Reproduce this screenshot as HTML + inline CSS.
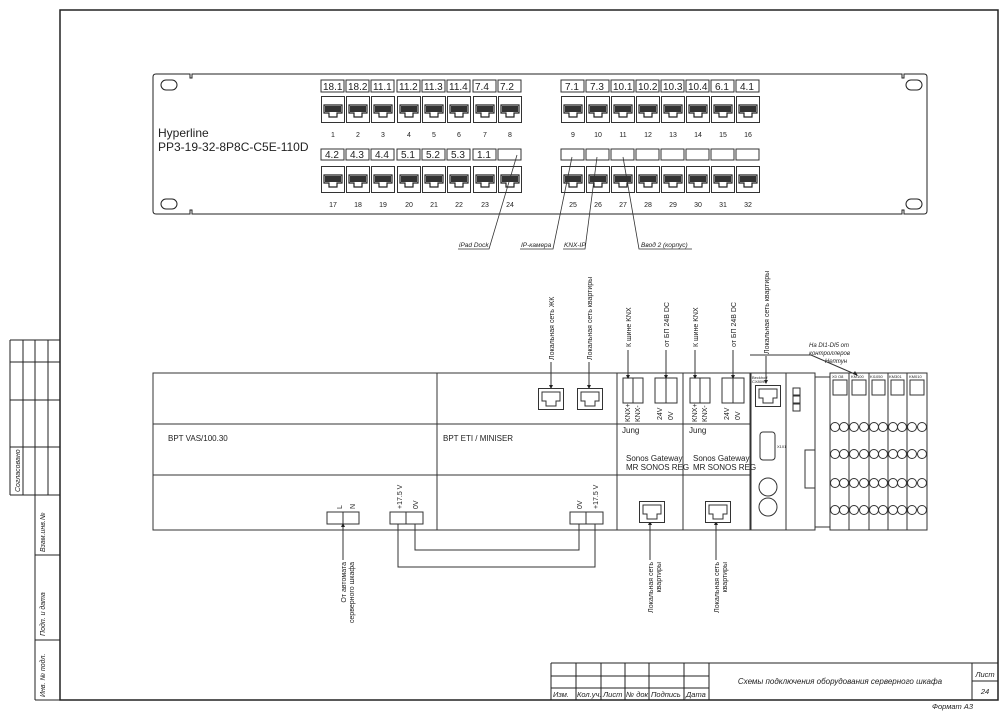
<!DOCTYPE html>
<html><head><meta charset="utf-8"><style>
html,body{margin:0;padding:0;background:#fff}
svg{display:block}
text{font-family:"Liberation Sans",sans-serif;fill:#222}
.it{font-style:italic}
</style></head><body>
<svg width="1006" height="712" viewBox="0 0 1006 712" xmlns="http://www.w3.org/2000/svg">
<defs>
<symbol id="jack" viewBox="0 0 24 27" width="24" height="27">
<rect x="0.5" y="0.5" width="23" height="26" fill="#fff" stroke="#333"/>
<path d="M3,9 H21 V17 H16 V21 H8 V17 H3 Z" fill="none" stroke="#222" stroke-width="1.2"/>
<rect x="4" y="10" width="16" height="6" fill="#333"/>
</symbol>
<symbol id="rj" viewBox="0 0 26 22" width="26" height="22">
<rect x="0.5" y="0.5" width="25" height="21" fill="#fff" stroke="#333"/>
<path d="M4,4 H22 V13 H18 V18 H8 V13 H4 Z" fill="none" stroke="#333"/>
</symbol>
</defs>
<g fill="none" stroke="#222">
<path d="M60,10 H998 V700 H60 Z" stroke-width="1.5"/>
<path d="M10,340 H60 M10,340 V495 M23,340 V495 M35,340 V700 M48,340 V495 M10,362 H60 M10,400 H60 M10,447 H60 M10,495 H60 M35,555 H60 M35,640 H60 M35,700 H60"/>
<path d="M156,74 H190 V78 H192 V74 H902 V78 H904 V74 H924 Q927,74 927,77 V211 Q927,214 924,214 H904 V210 H902 V214 H192 V210 H190 V214 H156 Q153,214 153,211 V77 Q153,74 156,74 Z"/>
<rect x="161" y="80" width="16" height="10" rx="5"/>
<rect x="161" y="199" width="16" height="10" rx="5"/>
<rect x="906" y="80" width="16" height="10" rx="5"/>
<rect x="906" y="199" width="16" height="10" rx="5"/>
</g>
<text x="158" y="137" font-size="12">Hyperline</text>
<text x="158" y="151" font-size="12">PP3-19-32-8P8C-C5E-110D</text>
<g fill="none" stroke="#333">
<rect x="321" y="80" width="23" height="12"/><rect x="346" y="80" width="23" height="12"/><rect x="371" y="80" width="23" height="12"/><rect x="397" y="80" width="23" height="12"/><rect x="422" y="80" width="23" height="12"/><rect x="447" y="80" width="23" height="12"/><rect x="473" y="80" width="23" height="12"/><rect x="498" y="80" width="23" height="12"/>
<rect x="321" y="149" width="23" height="11"/><rect x="346" y="149" width="23" height="11"/><rect x="371" y="149" width="23" height="11"/><rect x="397" y="149" width="23" height="11"/><rect x="422" y="149" width="23" height="11"/><rect x="447" y="149" width="23" height="11"/><rect x="473" y="149" width="23" height="11"/><rect x="498" y="149" width="23" height="11"/>
<rect x="561" y="80" width="23" height="12"/><rect x="586" y="80" width="23" height="12"/><rect x="611" y="80" width="23" height="12"/><rect x="636" y="80" width="23" height="12"/><rect x="661" y="80" width="23" height="12"/><rect x="686" y="80" width="23" height="12"/><rect x="711" y="80" width="23" height="12"/><rect x="736" y="80" width="23" height="12"/>
<rect x="561" y="149" width="23" height="11"/><rect x="586" y="149" width="23" height="11"/><rect x="611" y="149" width="23" height="11"/><rect x="636" y="149" width="23" height="11"/><rect x="661" y="149" width="23" height="11"/><rect x="686" y="149" width="23" height="11"/><rect x="711" y="149" width="23" height="11"/><rect x="736" y="149" width="23" height="11"/>
</g>
<g font-size="10">
<text x="323" y="90">18.1</text><text x="348" y="90">18.2</text><text x="373" y="90">11.1</text><text x="399" y="90">11.2</text><text x="424" y="90">11.3</text><text x="449" y="90">11.4</text><text x="475" y="90">7.4</text><text x="500" y="90">7.2</text>
<text x="325" y="158">4.2</text><text x="350" y="158">4.3</text><text x="375" y="158">4.4</text><text x="401" y="158">5.1</text><text x="426" y="158">5.2</text><text x="451" y="158">5.3</text><text x="477" y="158">1.1</text>
<text x="565" y="90">7.1</text><text x="590" y="90">7.3</text><text x="613" y="90">10.1</text><text x="638" y="90">10.2</text><text x="663" y="90">10.3</text><text x="688" y="90">10.4</text><text x="715" y="90">6.1</text><text x="740" y="90">4.1</text>
</g>
<g>
<use href="#jack" x="321" y="96"/><use href="#jack" x="346" y="96"/><use href="#jack" x="371" y="96"/><use href="#jack" x="397" y="96"/><use href="#jack" x="422" y="96"/><use href="#jack" x="447" y="96"/><use href="#jack" x="473" y="96"/><use href="#jack" x="498" y="96"/>
<use href="#jack" x="321" y="166"/><use href="#jack" x="346" y="166"/><use href="#jack" x="371" y="166"/><use href="#jack" x="397" y="166"/><use href="#jack" x="422" y="166"/><use href="#jack" x="447" y="166"/><use href="#jack" x="473" y="166"/><use href="#jack" x="498" y="166"/>
<use href="#jack" x="561" y="96"/><use href="#jack" x="586" y="96"/><use href="#jack" x="611" y="96"/><use href="#jack" x="636" y="96"/><use href="#jack" x="661" y="96"/><use href="#jack" x="686" y="96"/><use href="#jack" x="711" y="96"/><use href="#jack" x="736" y="96"/>
<use href="#jack" x="561" y="166"/><use href="#jack" x="586" y="166"/><use href="#jack" x="611" y="166"/><use href="#jack" x="636" y="166"/><use href="#jack" x="661" y="166"/><use href="#jack" x="686" y="166"/><use href="#jack" x="711" y="166"/><use href="#jack" x="736" y="166"/>
</g>
<g font-size="7" text-anchor="middle">
<text x="333" y="137">1</text><text x="358" y="137">2</text><text x="383" y="137">3</text><text x="409" y="137">4</text><text x="434" y="137">5</text><text x="459" y="137">6</text><text x="485" y="137">7</text><text x="510" y="137">8</text>
<text x="333" y="207">17</text><text x="358" y="207">18</text><text x="383" y="207">19</text><text x="409" y="207">20</text><text x="434" y="207">21</text><text x="459" y="207">22</text><text x="485" y="207">23</text><text x="510" y="207">24</text>
<text x="573" y="137">9</text><text x="598" y="137">10</text><text x="623" y="137">11</text><text x="648" y="137">12</text><text x="673" y="137">13</text><text x="698" y="137">14</text><text x="723" y="137">15</text><text x="748" y="137">16</text>
<text x="573" y="207">25</text><text x="598" y="207">26</text><text x="623" y="207">27</text><text x="648" y="207">28</text><text x="673" y="207">29</text><text x="698" y="207">30</text><text x="723" y="207">31</text><text x="748" y="207">32</text>
</g>
<g stroke="#333" fill="none" stroke-width="0.8">
<path d="M458,249 H489 L517,155"/>
<path d="M520,249 H553 L572,157"/>
<path d="M563,249 H585 L597,157"/>
<path d="M692,249 H639 L623,157"/>
</g>
<g font-size="6.5" class="it">
<text x="459" y="247" class="it">iPad Dock</text>
<text x="521" y="247" class="it">IP-камера</text>
<text x="564" y="247" class="it">KNX-IP</text>
<text x="641" y="247" class="it">Ввод 2 (корпус)</text>
</g>
<g fill="none" stroke="#333">
<rect x="153" y="373" width="597" height="157"/>
<path d="M153,424 H750 M153,475 H750 M437,373 V530 M617,373 V530 M683,373 V530"/>
<rect x="751" y="373" width="64" height="157"/>
<path d="M786,373 V530"/>
<rect x="815" y="377" width="15" height="150"/>
<rect x="830" y="373" width="97" height="157"/>
<path d="M849,373 V530 M869,373 V530 M888,373 V530 M907,373 V530"/>
<rect x="623" y="378" width="20" height="25"/><path d="M633,378 V403"/>
<rect x="655" y="378" width="22" height="25"/><path d="M666,378 V403"/>
<rect x="690" y="378" width="20" height="25"/><path d="M700,378 V403"/>
<rect x="722" y="378" width="22" height="25"/><path d="M733,378 V403"/>
<rect x="327" y="512" width="32" height="12"/><path d="M343,512 V524"/>
<rect x="390" y="512" width="33" height="12"/><path d="M406,512 V524"/>
<rect x="570" y="512" width="33" height="12"/><path d="M586,512 V524"/>
<path d="M398,524 V567 H595 V524 M415,524 V550 H579 V524"/>
<path d="M628,378 V350 M666,378 V350 M695,378 V350 M733,378 V350 M551,388 V362 M589,388 V362 M766,383 V356"/>
<path d="M343,524 V560 M650,522 V560 M716,522 V560"/>
<path d="M857,375 L811,355 H750"/>
<rect x="760" y="432" width="15" height="28" rx="3"/>
<circle cx="768" cy="487" r="9"/><circle cx="768" cy="507" r="9"/>
<rect x="793" y="388" width="7" height="7"/><rect x="793" y="396" width="7" height="7"/><rect x="793" y="404" width="7" height="7"/>
<rect x="805" y="450" width="10" height="38"/>
</g>
<g fill="#222">
<path d="M626,375 L630,375 L628,379Z M664,375 L668,375 L666,379Z M693,375 L697,375 L695,379Z M731,375 L735,375 L733,379Z M549,385 L553,385 L551,389Z M587,385 L591,385 L589,389Z M764,380 L768,380 L766,384Z M341,527 L345,527 L343,523Z M648,525 L652,525 L650,521Z M714,525 L718,525 L716,521Z M853,374 L858,376 L855,371Z"/>
</g>
<use href="#rj" x="538" y="388"/><use href="#rj" x="577" y="388"/>
<use href="#rj" x="639" y="501"/><use href="#rj" x="705" y="501"/>
<use href="#rj" x="755" y="385"/>
<g fill="none" stroke="#333">
<rect x="833" y="380" width="14" height="15"/><rect x="852" y="380" width="14" height="15"/><rect x="872" y="380" width="13" height="15"/><rect x="891" y="380" width="13" height="15"/><rect x="910" y="380" width="14" height="15"/>
<g id="c">
<circle cx="835" cy="427" r="4.5"/><circle cx="844" cy="427" r="4.5"/><circle cx="854" cy="427" r="4.5"/><circle cx="864" cy="427" r="4.5"/><circle cx="874" cy="427" r="4.5"/><circle cx="883" cy="427" r="4.5"/><circle cx="893" cy="427" r="4.5"/><circle cx="902" cy="427" r="4.5"/><circle cx="912" cy="427" r="4.5"/><circle cx="922" cy="427" r="4.5"/>
</g>
<use href="#c" y="27"/><use href="#c" y="56"/><use href="#c" y="83"/>
</g>
<g font-size="4" fill="#333">
<text x="832" y="378">X0 O8</text><text x="851" y="378">KM100</text><text x="870" y="378">KI1050</text><text x="889" y="378">KM301</text><text x="909" y="378">KM010</text>
<text x="752" y="379">Beckhoff</text><text x="752" y="383">CX8090</text><text x="777" y="448">X101</text>
</g>
<g font-size="8">
<text x="168" y="441">BPT  VAS/100.30</text>
<text x="443" y="441">BPT ETI / MINISER</text>
<text x="622" y="433">Jung</text><text x="689" y="433">Jung</text>
<text x="626" y="461">Sonos Gateway</text><text x="626" y="470">MR SONOS REG</text>
<text x="693" y="461">Sonos Gateway</text><text x="693" y="470">MR SONOS REG</text>
</g>
<g font-size="7">
<text transform="translate(630,422) rotate(-90)">KNX+</text>
<text transform="translate(640,422) rotate(-90)">KNX-</text>
<text transform="translate(662,420) rotate(-90)">24V</text>
<text transform="translate(673,420) rotate(-90)">0V</text>
<text transform="translate(697,422) rotate(-90)">KNX+</text>
<text transform="translate(707,422) rotate(-90)">KNX-</text>
<text transform="translate(729,420) rotate(-90)">24V</text>
<text transform="translate(740,420) rotate(-90)">0V</text>
<text transform="translate(342,509) rotate(-90)">L</text>
<text transform="translate(355,509) rotate(-90)">N</text>
<text transform="translate(402,509) rotate(-90)">+17.5 V</text>
<text transform="translate(418,509) rotate(-90)">0V</text>
<text transform="translate(582,509) rotate(-90)">0V</text>
<text transform="translate(598,509) rotate(-90)">+17.5 V</text>
<text transform="translate(631,347) rotate(-90)">К шине KNX</text>
<text transform="translate(669,347) rotate(-90)">от БП 24В DC</text>
<text transform="translate(698,347) rotate(-90)">К шине KNX</text>
<text transform="translate(736,347) rotate(-90)">от БП 24В DC</text>
<text transform="translate(554,360) rotate(-90)">Локальная сеть ЖК</text>
<text transform="translate(592,360) rotate(-90)">Локальная сеть квартиры</text>
<text transform="translate(769,354) rotate(-90)">Локальная сеть квартиры</text>
<text text-anchor="end" transform="translate(346,562) rotate(-90)">От автомата</text>
<text text-anchor="end" transform="translate(354,562) rotate(-90)">серверного шкафа</text>
<text text-anchor="end" transform="translate(653,562) rotate(-90)">Локальная сеть</text>
<text text-anchor="end" transform="translate(661,562) rotate(-90)">квартиры</text>
<text text-anchor="end" transform="translate(719,562) rotate(-90)">Локальная сеть</text>
<text text-anchor="end" transform="translate(727,562) rotate(-90)">квартиры</text>
</g>
<g font-size="6" class="it" text-anchor="end">
<text x="849" y="347" class="it">На DI1-DI5 от</text>
<text x="850" y="355" class="it">контроллеров</text>
<text x="847" y="363" class="it">Нептун</text>
</g>
<g fill="none" stroke="#222">
<path d="M551,663 H998 M551,663 V700 M576,663 V700 M601,663 V700 M625,663 V700 M649,663 V700 M684,663 V700 M709,663 V700 M972,663 V700 M551,676 H709 M551,688 H709 M972,681 H998"/>
</g>
<g font-size="7.5" class="it">
<text x="553" y="697" class="it">Изм.</text><text x="577" y="697" class="it">Кол.уч.</text><text x="603" y="697" class="it">Лист</text><text x="626" y="697" class="it">№ док</text><text x="651" y="697" class="it">Подпись</text><text x="686" y="697" class="it">Дата</text>
<text x="840" y="684" text-anchor="middle" class="it" font-size="8">Схемы подключения оборудования серверного шкафа</text>
<text x="985" y="677" text-anchor="middle" class="it">Лист</text>
<text x="985" y="694" text-anchor="middle" class="it">24</text>
<text x="932" y="709" class="it">Формат А3</text>
</g>
<g font-size="7" class="it">
<text transform="translate(20,492) rotate(-90)" class="it">Согласовано</text>
<text transform="translate(45,552) rotate(-90)" class="it">Взам.инв.№</text>
<text transform="translate(45,636) rotate(-90)" class="it">Подп. и дата</text>
<text transform="translate(45,697) rotate(-90)" class="it">Инв. № подл.</text>
</g>
</svg>
</body></html>
